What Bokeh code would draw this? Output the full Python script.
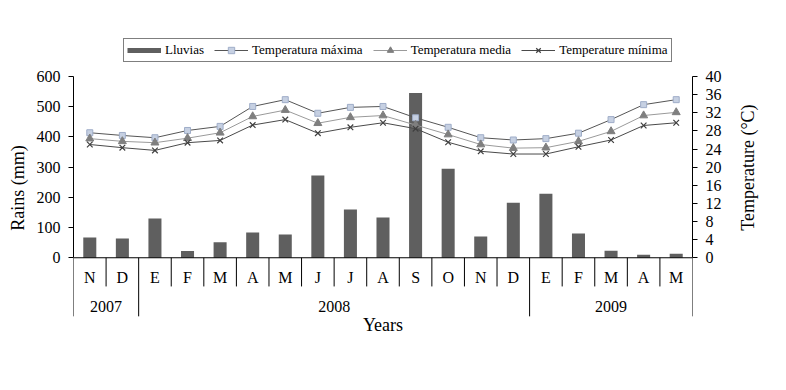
import math
from bokeh.plotting import figure
from bokeh.layouts import row
from bokeh.models import Range1d, LinearAxis, FixedTicker, Legend, LegendItem
from bokeh.core.properties import value
from bokeh.embed import file_html
from bokeh.resources import INLINE

# ---- data ----
months = ["N", "D", "E", "F", "M", "A", "M", "J", "J", "A", "S", "O", "N", "D", "E", "F", "M", "A", "M"]
year_labels = ["2007", "2008", "2009"]
year_lengths = [2, 12, 5]
rain = [67, 64, 130, 22, 51, 84, 77, 272, 160, 133, 546, 295, 70, 182, 212, 80, 23, 10, 13]
tmax = [27.6, 27.0, 26.5, 28.1, 29.0, 33.4, 34.9, 31.9, 33.2, 33.4, 30.9, 28.8, 26.5, 26.0, 26.3, 27.5, 30.5, 33.8, 34.9]
tmed = [26.3, 25.7, 25.4, 26.4, 27.6, 31.2, 32.6, 29.7, 31.0, 31.4, 29.3, 27.2, 25.0, 24.2, 24.3, 25.7, 27.9, 31.4, 32.1]
tmin = [25.0, 24.3, 23.7, 25.4, 25.9, 29.3, 30.5, 27.5, 28.8, 29.8, 28.5, 25.5, 23.5, 22.9, 22.9, 24.5, 26.0, 29.2, 29.8]
rain_ticks = [0, 100, 200, 300, 400, 500, 600]
temp_ticks = [0, 4, 8, 12, 16, 20, 24, 28, 32, 36, 40]

FONT = "Liberation Serif"
n = len(months)
xc = [i + 0.5 for i in range(n)]

# layout constants (in rain units, relative to the zero line)
Y_MIN = -274
Y_MAX = 736
Y_MONTH_TXT = -64
Y_MONTH_SEP = -95
Y_YEAR_TXT = -163
Y_YEAR_SEP = -194
Y_TITLE = -224
RATIO = 15.0  # mm per degree

MAIN_W = 730
H = 374

p = figure(width=MAIN_W, height=H, output_backend="svg", toolbar_location=None,
           x_range=Range1d(0, n), y_range=Range1d(Y_MIN, Y_MAX),
           x_axis_location=None, y_axis_location=None,
           min_border_left=73, min_border_right=MAIN_W - 692, min_border_top=35, min_border_bottom=34)
p.outline_line_color = None
p.xgrid.visible = False
p.ygrid.visible = False
p.background_fill_color = "white"
p.border_fill_color = "white"
p.extra_y_ranges = {"temp": Range1d(Y_MIN / RATIO, Y_MAX / RATIO)}

la = LinearAxis(ticker=FixedTicker(ticks=rain_ticks), bounds=(0, 600), axis_label="Rains (mm)")
ra = LinearAxis(y_range_name="temp", ticker=FixedTicker(ticks=temp_ticks), bounds=(0, 40))
for ax in (la, ra):
    ax.axis_line_color = "black"
    ax.major_tick_line_color = "black"
    ax.major_tick_in = 0
    ax.major_tick_out = 5
    ax.minor_tick_line_color = None
    ax.major_label_text_font = FONT
    ax.major_label_text_font_size = "16px"
    ax.major_label_text_color = "black"
    ax.axis_label_text_font = FONT
    ax.axis_label_text_font_size = "18px"
    ax.axis_label_text_font_style = "normal"
    ax.axis_label_text_color = "black"
    ax.major_label_standoff = 8
la.axis_label_standoff = 6
p.add_layout(la, "left")
p.add_layout(ra, "right")

# bars
BAR = "#5f5f5f"
p.vbar(x=xc, top=rain, width=0.4, fill_color=BAR, line_color=None)

# zero line
p.segment(x0=[0], y0=[0], x1=[n], y1=[0], line_color="black", line_width=1)

# separators
bounds_year = [0]
for L in year_lengths:
    bounds_year.append(bounds_year[-1] + L)
sep_x = list(range(n + 1))
sep_y1 = [Y_YEAR_SEP if k in bounds_year else Y_MONTH_SEP for k in sep_x]
p.segment(x0=sep_x, y0=[0] * len(sep_x), x1=sep_x, y1=sep_y1, line_color="black", line_width=1)

# month labels
p.text(x=xc, y=[Y_MONTH_TXT] * n, text=months, text_font=value(FONT), text_font_size=value("16px"),
       text_align="center", text_baseline="middle", text_color="black")
# year labels
yx = [(bounds_year[i] + bounds_year[i + 1]) / 2 for i in range(len(year_labels))]
p.text(x=yx, y=[Y_YEAR_TXT] * len(yx), text=year_labels, text_font=value(FONT),
       text_font_size=value("16px"), text_align="center", text_baseline="middle", text_color="black")
p.text(x=[n / 2], y=[Y_TITLE], text=["Years"], text_font=value(FONT), text_font_size=value("18px"),
       text_align="center", text_baseline="middle", text_color="black")

# temperature lines
lmax = p.line(xc, tmax, y_range_name="temp", line_color="#555555", line_width=1)
mmax = p.scatter(xc, tmax, y_range_name="temp", marker="square", size=6,
                 fill_color="#c6d0e2", line_color="#9fadc8")
lmed = p.line(xc, tmed, y_range_name="temp", line_color="#9a9a9a", line_width=1)
mmed = p.scatter(xc, tmed, y_range_name="temp", marker="triangle", size=8,
                 fill_color="#7f7f7f", line_color="#7f7f7f")
lmin = p.line(xc, tmin, y_range_name="temp", line_color="#4a4a4a", line_width=1)
mmin = p.scatter(xc, tmin, y_range_name="temp", marker="x", size=8,
                 line_color="#3f3f3f", line_width=1.2)

# legend proxy for bars (no visible data)
proxy = p.line(x=[float("nan")], y=[float("nan")], line_color=BAR, line_width=5)

legend = Legend(items=[
    LegendItem(label="Lluvias", renderers=[proxy]),
    LegendItem(label="Temperatura máxima", renderers=[lmax, mmax]),
    LegendItem(label="Temperatura media", renderers=[lmed, mmed]),
    LegendItem(label="Temperature mínima", renderers=[lmin, mmin]),
], orientation="horizontal", location=(50, 278))
legend.label_text_font = FONT
legend.label_text_font_size = "13px"
legend.label_text_color = "black"
legend.glyph_width = 34
legend.glyph_height = 16
legend.label_standoff = 4
legend.spacing = 10
legend.padding = 3
legend.margin = 0
legend.border_line_color = "black"
legend.border_line_width = 1
legend.background_fill_alpha = 1
p.add_layout(legend, "center")

# strip on the right holding the temperature axis title (reads bottom-to-top)
STRIP_W = 770 - MAIN_W
s = figure(width=STRIP_W, height=H, output_backend="svg", toolbar_location=None,
           x_range=Range1d(0, STRIP_W), y_range=Range1d(H, 0),
           x_axis_location=None, y_axis_location=None,
           min_border_left=0, min_border_right=0, min_border_top=0, min_border_bottom=0)
s.outline_line_color = None
s.xgrid.visible = False
s.ygrid.visible = False
s.background_fill_color = "white"
s.border_fill_color = "white"
s.text(x=[17], y=[162], text=["Temperature (°C)"], angle=math.pi / 2,
       text_font=value(FONT), text_font_size=value("18px"),
       text_align="center", text_baseline="middle", text_color="black")

layout = row(p, s)
open("out.html", "w").write(file_html(layout, INLINE))
